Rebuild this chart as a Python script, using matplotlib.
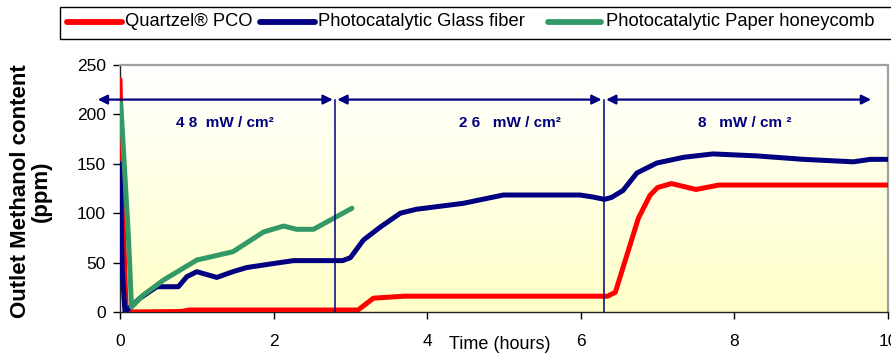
import numpy as np
import matplotlib
matplotlib.use("Agg")
import matplotlib.pyplot as plt
from matplotlib.lines import Line2D
from matplotlib.patches import Rectangle

plt.rcParams['font.family'] = ['Liberation Sans', 'DejaVu Sans']

# ---- data ----
red_t = [0, 0.03, 0.08, 0.8, 0.9, 3.1, 3.2, 3.3, 3.7, 6.35, 6.45, 6.55, 6.75, 6.9, 7.0, 7.18, 7.5, 7.8, 10]
red_v = [235, 120, 0, 0.5, 2, 2, 8, 14, 16, 16, 20, 45, 95, 118, 126, 130, 124, 128.5, 128.5]

blue_t = [0, 0.03, 0.065, 0.26, 0.48, 0.76, 0.87, 1.0, 1.26, 1.47, 1.65, 2.08, 2.26, 2.9, 3.0,
          3.17, 3.39, 3.65, 3.86, 4.47, 4.99, 5.99, 6.15, 6.31, 6.4, 6.55, 6.73, 6.99, 7.34,
          7.72, 8.29, 8.9, 9.55, 9.77, 10]
blue_v = [150, 40, 0, 14, 25.6, 25.6, 35.7, 40.8, 35, 40.8, 45, 50, 52, 52, 55,
          72.9, 86, 100, 104, 110, 118.4, 118.4, 116.5, 114, 116, 123, 140.7, 150.8, 156.6,
          160, 158, 154.5, 152, 154.5, 154.5]

green_t = [0.01, 0.11, 0.15, 0.30, 0.56, 1.0, 1.47, 1.87, 2.13, 2.30, 2.52, 2.78, 3.02]
green_v = [211, 76, 5, 17, 32, 52.6, 61, 81, 87, 83.7, 83.7, 94.8, 105]

series_names = ["Quartzel® PCO", "Photocatalytic Glass fiber", "Photocatalytic Paper honeycomb"]
series_colors = ["#FF0000", "#000080", "#339966"]

period_bounds = [2.8, 6.3]
period_labels = ["4 8  mW / cm²", "2 6   mW / cm²", "8   mW / cm ²"]
period_label_t = [1.37, 5.08, 8.14]
arrow_level = 215

xticks = [0, 2, 4, 6, 8, 10]
yticks = [0, 50, 100, 150, 200, 250]

# ---- figure ----
W, H = 891, 354
fig = plt.figure(figsize=(W/100, H/100), dpi=100)
ax = fig.add_axes([120/W, 1-312/H, 768/W, 247/H])
ax.set_xlim(0, 10)
ax.set_ylim(0, 250)

# gradient background
grad = np.linspace(0, 1, 256).reshape(-1, 1)
top = np.array([255, 255, 200]) / 255
bot = np.array([255, 255, 255]) / 255
img = top[None, None, :] * (1 - grad[..., None]) + bot[None, None, :] * grad[..., None]
ax.imshow(img, extent=[0, 10, 250, 0], aspect='auto', zorder=0, origin='upper')
ax.set_xlim(0, 10)
ax.set_ylim(0, 250)

ax.plot(red_t, red_v, color=series_colors[0], lw=3.6, zorder=3, solid_capstyle='round')
ax.plot(blue_t, blue_v, color=series_colors[1], lw=3.6, zorder=4, solid_capstyle='round')
ax.plot(green_t, green_v, color=series_colors[2], lw=3.6, zorder=5, solid_capstyle='round')

# period boundaries and arrows
for b in period_bounds:
    ax.plot([b, b], [0, arrow_level], color='#000080', lw=1.1, zorder=6)
edges = [-0.29] + period_bounds + [9.78]
for i in range(3):
    x0 = edges[i] + (0.03 if i > 0 else 0)
    x1 = edges[i + 1] - (0.03 if i < 2 else 0)
    ax.annotate('', xy=(x1, arrow_level), xytext=(x0, arrow_level),
                arrowprops=dict(arrowstyle='<|-|>', color='#000080', lw=1.6,
                                mutation_scale=14, shrinkA=0, shrinkB=0),
                annotation_clip=False, zorder=7)
    ax.text(period_label_t[i], 191, period_labels[i], color='#000080', fontsize=11,
            fontweight='bold', ha='center', va='center', zorder=7)

# axes styling
ax.set_xticks(xticks)
ax.set_yticks(yticks)
ax.tick_params(axis='x', direction='out', length=5, width=1, pad=11, labelsize=12.5)
ax.tick_params(axis='y', direction='out', length=5, width=1, pad=5, labelsize=12.5)
for s in ['top', 'right']:
    ax.spines[s].set_color('#A0A0A0')
    ax.spines[s].set_linewidth(1.6)
for s in ['left', 'bottom']:
    ax.spines[s].set_color('#222222')
    ax.spines[s].set_linewidth(1.0)

ax.text(0.495, -0.13, "Time (hours)", transform=ax.transAxes, ha='center', va='center',
        fontsize=13)
fig.text(31/W, 1-191/H, "Outlet Methanol content\n(ppm)", rotation=90, ha='center',
         va='center', fontsize=16, fontweight='bold', multialignment='center', linespacing=1.0)

# legend (drawn as a boxed key row at the top)
fig.add_artist(Rectangle((60/W, 1-39/H), (W+5-60)/W, 32/H, transform=fig.transFigure,
                         facecolor='white', edgecolor='black', lw=1.0))
key_line_x = [(67, 122), (260, 315), (548, 601)]
key_text_x = [125, 318, 606]
ky = 1 - 22/H
for (a, b), tx, name, col in zip(key_line_x, key_text_x, series_names, series_colors):
    fig.add_artist(Line2D([a/W, b/W], [ky, ky], transform=fig.transFigure, color=col,
                          lw=4.2, solid_capstyle='round'))
    fig.text(tx/W, ky, name, ha='left', va='center', fontsize=13.2)

fig.savefig("out.png", dpi=100)
